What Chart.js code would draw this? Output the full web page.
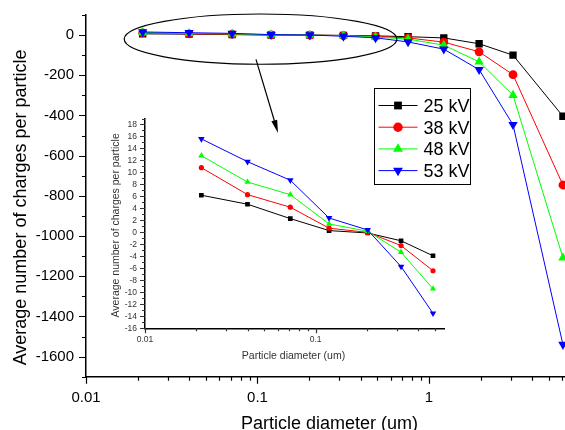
<!DOCTYPE html>
<html>
<head>
<meta charset="utf-8">
<script src="https://cdn.jsdelivr.net/npm/chart.js@4.4.1/dist/chart.umd.min.js"></script>
<style>
  html, body { margin: 0; padding: 0; background: #fff; overflow: hidden; }
  #wrap { position: relative; width: 565px; height: 430px; }
  #mainChart { position: absolute; left: 0; top: 0; }
  #insetChart { position: absolute; left: 95px; top: 100px; }
</style>
</head>
<body>
<div id="wrap">
  <canvas id="mainChart" width="565" height="430"></canvas>
  <canvas id="insetChart" width="365" height="270"></canvas>
</div>
<script>
// particle diameter (um) of each point
var diameter = [0.0214, 0.0399, 0.0711, 0.12, 0.202, 0.317, 0.488, 0.755, 1.22, 1.96, 3.09, 6.04];
// average number of charges per particle, one array per voltage
var charges25 = [6.2, 4.7, 2.3, 0.3, -0.1, -1.4, -3.9, -8, -14, -43, -100, -404];
var charges38 = [10.8, 6.3, 4.2, 0.7, 0, -2.2, -6.4, -14, -35, -83, -197, -746];
var charges48 = [12.8, 8.4, 6.3, 1.4, 0.2, -3.3, -9.4, -20, -50, -133, -299, -1108];
var charges53 = [15.6, 11.8, 8.7, 2.4, 0.4, -5.7, -13.5, -34, -70, -172, -446, -1540];
var seriesNames = ['25 kV', '38 kV', '48 kV', '53 kV'];

// tick labels
var mainXLabels = [0.01, 0.1, 1];
var mainYLabels = [-1600, -1400, -1200, -1000, -800, -600, -400, -200, 0];
var insetXLabels = [0.01, 0.1];
var insetYLabels = [-16, -14, -12, -10, -8, -6, -4, -2, 0, 2, 4, 6, 8, 10, 12, 14, 16, 18];
var insetCount = 7; // inset zooms on the first seven diameters

var seriesValues = [charges25, charges38, charges48, charges53];
var colors = ['#000000', '#ff0000', '#00ff00', '#0000ff'];
var shapes = ['rect', 'circle', 'triangle', 'triangle'];
var rotations = [0, 0, 0, 180];
var FONT = '"Liberation Sans", Arial, sans-serif';

function makeDatasets(count, radii) {
    return seriesValues.map(function(vals, i) {
        return {
            label: seriesNames[i],
            data: diameter.slice(0, count).map(function(d, j) { return {x: d, y: vals[j]}; }),
            borderColor: colors[i],
            backgroundColor: colors[i],
            pointBackgroundColor: colors[i],
            borderWidth: 1,
            pointStyle: shapes[i],
            pointRotation: rotations[i],
            pointRadius: radii[i],
            pointBorderWidth: 0,
            tension: 0,
            fill: false,
            order: 3 - i
        };
    });
}

function logMinors(min, max) {
    var out = [];
    for (var dec = min; dec < max; dec *= 10) {
        for (var k = 2; k <= 9; k++) {
            var v = +(dec * k).toPrecision(3);
            if (v <= max) out.push(v);
        }
    }
    return out;
}

function linMinors(labels, step) {
    var out = [labels[0] - step / 2];
    labels.forEach(function(v) { out.push(v + step / 2); });
    return out;
}

// draws tick marks, axis titles and the extra drawing bits
function makeDecor(cfg) {
    return {
        id: 'decor',
        afterDraw: function(chart) {
            var ctx = chart.ctx, area = chart.chartArea;
            var xs = chart.scales.x, ys = chart.scales.y;
            ctx.save();
            ctx.strokeStyle = cfg.color;
            ctx.fillStyle = cfg.color;
            ctx.lineWidth = 1.2;
            ctx.beginPath();
            function xTick(v, len) {
                var px = Math.round(xs.getPixelForValue(v)) + 0.5;
                ctx.moveTo(px, area.bottom);
                ctx.lineTo(px, area.bottom + len);
            }
            function yTick(v, len) {
                var py = Math.round(ys.getPixelForValue(v)) + 0.5;
                ctx.moveTo(area.left, py);
                ctx.lineTo(area.left - len, py);
            }
            cfg.xLabels.forEach(function(v) { xTick(v, cfg.majorLen); });
            cfg.xMinor.forEach(function(v) { xTick(v, cfg.minorLen); });
            cfg.yLabels.forEach(function(v) { yTick(v, cfg.majorLen); });
            cfg.yMinor.forEach(function(v) { if (v >= ys.min && v <= ys.max) yTick(v, cfg.minorLen); });
            ctx.stroke();

            // axis titles
            ctx.font = cfg.titleFont;
            ctx.textBaseline = 'alphabetic';
            ctx.textAlign = 'center';
            ctx.fillText(cfg.xTitle, (area.left + area.right) / 2 + cfg.xTitleDx, area.bottom + cfg.xTitleDy);
            ctx.save();
            ctx.translate(area.left - cfg.yTitleDx, (area.top + area.bottom) / 2 + cfg.yTitleDy);
            ctx.rotate(-Math.PI / 2);
            ctx.fillText(cfg.yTitle, 0, 0);
            ctx.restore();

            if (cfg.ellipse) {
                var e = cfg.ellipse;
                var l = xs.getPixelForValue(e.xFrom), r = xs.getPixelForValue(e.xTo);
                var t = ys.getPixelForValue(e.yTo), b = ys.getPixelForValue(e.yFrom);
                ctx.strokeStyle = '#000';
                ctx.lineWidth = 1.2;
                ctx.beginPath();
                ctx.ellipse((l + r) / 2, (t + b) / 2, (r - l) / 2, (b - t) / 2, 0, 0, Math.PI * 2);
                ctx.stroke();
            }
            if (cfg.arrow) {
                var a = cfg.arrow;
                var x1 = xs.getPixelForValue(a.x1), y1 = ys.getPixelForValue(a.y1);
                var x2 = xs.getPixelForValue(a.x2), y2 = ys.getPixelForValue(a.y2);
                var ang = Math.atan2(y2 - y1, x2 - x1);
                ctx.strokeStyle = '#000';
                ctx.fillStyle = '#000';
                ctx.lineWidth = 1.2;
                ctx.beginPath();
                ctx.moveTo(x1, y1);
                ctx.lineTo(x2 - 8 * Math.cos(ang), y2 - 8 * Math.sin(ang));
                ctx.stroke();
                ctx.beginPath();
                ctx.moveTo(x2, y2);
                ctx.lineTo(x2 - 13 * Math.cos(ang) + 3 * Math.sin(ang), y2 - 13 * Math.sin(ang) - 3 * Math.cos(ang));
                ctx.lineTo(x2 - 13 * Math.cos(ang) - 3 * Math.sin(ang), y2 - 13 * Math.sin(ang) + 3 * Math.cos(ang));
                ctx.closePath();
                ctx.fill();
            }
            if (cfg.legend) {
                var lg = cfg.legend;
                ctx.strokeStyle = '#000';
                ctx.lineWidth = 1;
                ctx.strokeRect(lg.left, lg.top, lg.width, lg.height);
                ctx.font = lg.font;
                ctx.textAlign = 'left';
                chart.data.datasets.forEach(function(ds, i) {
                    var y = lg.top + lg.firstRow + i * lg.rowGap;
                    ctx.strokeStyle = ds.borderColor;
                    ctx.fillStyle = ds.borderColor;
                    ctx.beginPath();
                    ctx.moveTo(lg.left + 4, y);
                    ctx.lineTo(lg.left + 43, y);
                    ctx.stroke();
                    Chart.helpers.drawPoint(ctx, {
                        pointStyle: ds.pointStyle, radius: ds.pointRadius + 0.3,
                        rotation: ds.pointRotation, borderWidth: 0
                    }, lg.left + 23.5, y);
                    ctx.fillStyle = '#000';
                    ctx.fillText(ds.label, lg.left + 49, y + 6.5);
                });
            }
            ctx.restore();
        }
    };
}

function axisOptions(type, min, max, labels, fixed, size, pad, color) {
    return {
        type: type,
        min: min,
        max: max,
        afterBuildTicks: function(s) { s.ticks = labels.map(function(v) { return {value: v}; }); },
        afterFit: function(s) {
            if (s.isHorizontal()) s.height = fixed; else s.width = fixed;
            s.paddingLeft = s.paddingRight = s.paddingTop = s.paddingBottom = 0;
        },
        grid: {display: false, drawTicks: false},
        border: {display: true, color: '#000', width: 1.5},
        ticks: {
            autoSkip: false,
            maxRotation: 0,
            padding: pad,
            color: color,
            font: {family: FONT, size: size},
            callback: function(v) { return String(v); }
        }
    };
}

var mainChart = new Chart(document.getElementById('mainChart'), {
    type: 'line',
    data: {datasets: makeDatasets(diameter.length, [5.2, 4.4, 5.4, 5.4])},
    options: {
        responsive: false,
        animation: false,
        devicePixelRatio: 1,
        layout: {autoPadding: false, padding: {top: 15, left: 0, right: 0, bottom: 0}},
        plugins: {legend: {display: false}, tooltip: {enabled: false}},
        scales: {
            x: axisOptions('logarithmic', 0.01, 6.21, mainXLabels, 53.3, 15, 12, '#000'),
            y: axisOptions('linear', -1700, 100, mainYLabels, 86, 15, 12, '#000')
        }
    },
    plugins: [makeDecor({
        color: '#000',
        majorLen: 7,
        minorLen: 4,
        xLabels: mainXLabels,
        xMinor: logMinors(0.01, 6.21),
        yLabels: mainYLabels,
        yMinor: linMinors(mainYLabels, 200),
        titleFont: '18px ' + FONT,
        xTitle: 'Particle diameter (um)',
        xTitleDx: 4,
        xTitleDy: 52.3,
        yTitle: 'Average number of charges per particle',
        yTitleDx: 60,
        yTitleDy: 11.6,
        ellipse: {xFrom: 0.0167, xTo: 0.65, yFrom: -145, yTo: 105},
        arrow: {x1: 0.098, y1: -121, x2: 0.1317, y2: -487},
        legend: {left: 374.5, top: 88.5, width: 96, height: 96, firstRow: 17, rowGap: 21.7, font: '18px ' + FONT}
    })]
});

var insetChart = new Chart(document.getElementById('insetChart'), {
    type: 'line',
    data: {datasets: makeDatasets(insetCount, [3.3, 2.6, 3.6, 3.8])},
    options: {
        responsive: false,
        animation: false,
        devicePixelRatio: 1,
        layout: {autoPadding: false, padding: {top: 18.5, left: 0, right: 16, bottom: 0}},
        plugins: {legend: {display: false}, tooltip: {enabled: false}},
        scales: {
            x: axisOptions('logarithmic', 0.01, 0.566, insetXLabels, 41.7, 8.5, 6, '#333'),
            y: axisOptions('linear', -16, 19, insetYLabels, 50, 8.5, 8, '#333')
        }
    },
    plugins: [makeDecor({
        color: '#333',
        majorLen: 5,
        minorLen: 3,
        xLabels: insetXLabels,
        xMinor: logMinors(0.01, 0.566),
        yLabels: insetYLabels,
        yMinor: linMinors(insetYLabels, 2),
        titleFont: '10.5px ' + FONT,
        xTitle: 'Particle diameter (um)',
        xTitleDx: -1,
        xTitleDy: 30.4,
        yTitle: 'Average number of charges per particle',
        yTitleDx: 26.5,
        yTitleDy: 2
    })]
});
</script>
</body>
</html>
